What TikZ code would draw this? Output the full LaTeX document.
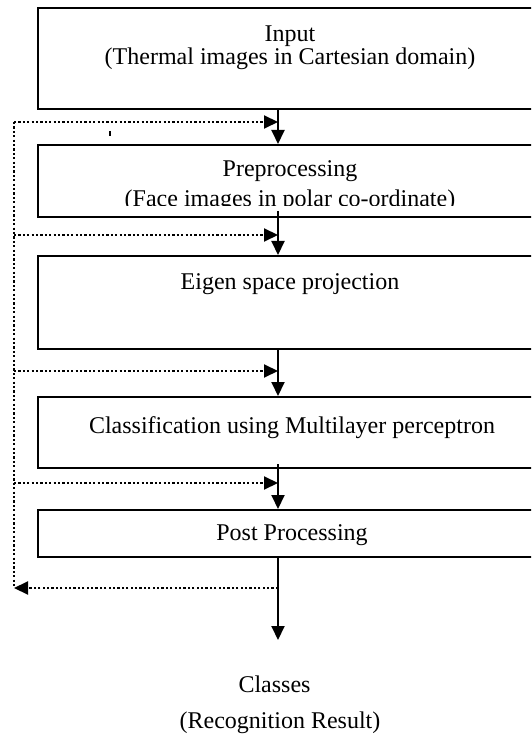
\documentclass[tikz,border=0pt]{standalone}
\usepackage{fontspec}
\setmainfont{Liberation Serif}
\usetikzlibrary{arrows.meta}

\begin{document}
\begin{tikzpicture}[x=0.5pt, y=-0.5pt, line width=1pt, >={Triangle[length=7pt,width=6.5pt]},
  stage/.style={draw, rectangle, minimum width=253.5pt, inner sep=0pt},
  txt/.style={font=\fontsize{12}{13}\selectfont, anchor=base, inner sep=0pt},
  fb/.style={dash pattern=on 1.1pt off 1.1pt}]

\useasboundingbox (0,0) rectangle (531,742);
\clip (0,0) rectangle (531,742);

% the stages (open to the right, as in the original)
\node[stage, minimum height=50.5pt] (input) at (291.5,58.5) {};
\node[stage, minimum height=36pt]   (prep)  at (291.5,181)  {};
\node[stage, minimum height=46.5pt] (eigen) at (291.5,302.5) {};
\node[stage, minimum height=35.5pt] (mlp)   at (291.5,432.5) {};
\node[stage, minimum height=23.5pt] (post)  at (291.5,533.5) {};

\node[txt] (inputA) at (290,42) {Input};
\node[txt] (inputB) at (290,64.5) {(Thermal images in Cartesian domain)};
\node[txt] (prepA) at (290,177) {Preprocessing};
\begin{scope}
\clip (38,145) rectangle (545,206);
\node[txt] (prepB) at (290,207) {(Face images in polar co-ordinate)};
\end{scope}
\node[txt] (eigenA) at (290,290) {Eigen space projection};
\node[txt] (mlpA) at (292,433) {Classification using Multilayer perceptron};
\node[txt] (postA) at (292,540) {Post Processing};
\node[txt] (classA) at (274.5,692) {Classes};
\node[txt] (classB) at (280,728) {(Recognition Result)};

% main flow
\coordinate (spine) at (278,0);
\coordinate (result) at (278,640);
\draw[->] (input.south -| spine) -- (prep.north -| spine);
\draw[->] ([yshift=3.5pt]prep.south -| spine) -- (eigen.north -| spine);
\draw[->] (eigen.south -| spine) -- (mlp.north -| spine);
\draw[->] ([yshift=2.5pt]mlp.south -| spine) -- (post.north -| spine);
\draw[->] (post.south -| spine) -- (result);

% feedback loop
\coordinate (rail) at (14,0);
\coordinate (j1) at (278,122);
\coordinate (j2) at (278,235);
\coordinate (j3) at (278,371);
\coordinate (j4) at (278,483);
\coordinate (j5) at (278,588);
\draw[fb] (j1 -| rail) -- (j5 -| rail);
\foreach \j in {j1,j2,j3,j4}
  \draw[fb,->] (\j -| rail) -- (\j);
\draw[fb,->] (j5) -- (j5 -| rail);

\draw (110,131) -- (110,136);

\end{tikzpicture}
\end{document}
